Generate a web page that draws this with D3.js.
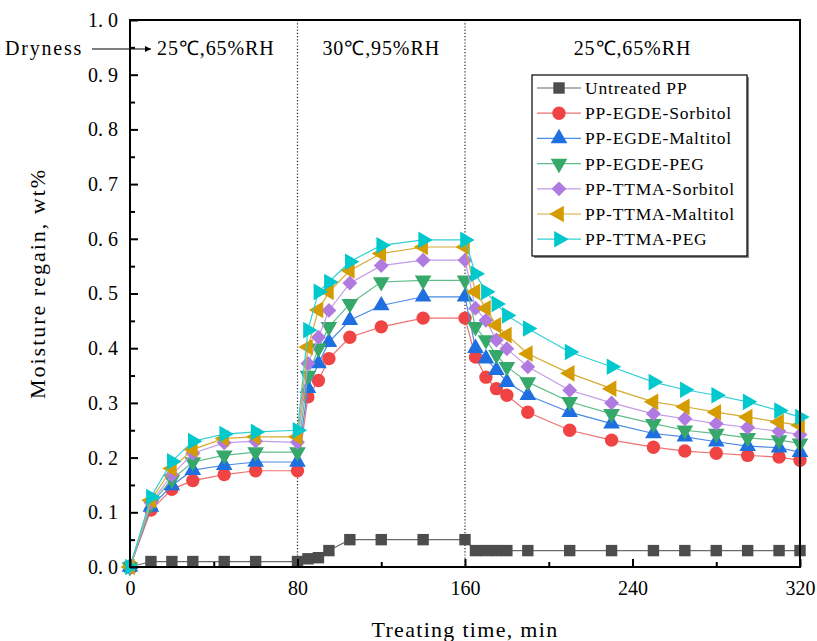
<!DOCTYPE html>
<html>
<head>
<meta charset="utf-8">
<script src="https://cdn.jsdelivr.net/npm/d3@7"></script>
<style>
  body { margin: 0; background: #fff; }
  svg text { font-family: "Liberation Serif", "Times New Roman", serif; fill: #000; }
</style>
</head>
<body>
<div id="chart"></div>
<script>
// sampling times (min)
var times = [0, 10, 20, 30, 45, 60, 80, 85, 90, 95, 105, 120, 140, 160,
    165, 170, 175, 180, 190, 210, 230, 250, 265, 280, 295, 310, 320];

var untreatedPP = [0, 0.01, 0.01, 0.01, 0.01, 0.01, 0.01, 0.015, 0.017, 0.03, 0.05, 0.05, 0.05, 0.05,
    0.03, 0.03, 0.03, 0.03, 0.03, 0.03, 0.03, 0.03, 0.03, 0.03, 0.03, 0.03, 0.03];
var egdeSorbitol = [0, 0.104, 0.142, 0.158, 0.169, 0.176, 0.176, 0.311, 0.341, 0.381, 0.42, 0.439, 0.455, 0.455,
    0.384, 0.347, 0.326, 0.314, 0.283, 0.25, 0.232, 0.219, 0.212, 0.208, 0.204, 0.201, 0.195];
var egdeMaltitol = [0, 0.11, 0.149, 0.177, 0.186, 0.192, 0.192, 0.327, 0.372, 0.411, 0.451, 0.478, 0.494, 0.494,
    0.40, 0.381, 0.36, 0.338, 0.314, 0.283, 0.262, 0.244, 0.238, 0.229, 0.221, 0.218, 0.21];
var egdePEG = [0, 0.115, 0.16, 0.192, 0.204, 0.21, 0.21, 0.35, 0.40, 0.439, 0.481, 0.521, 0.524, 0.524,
    0.439, 0.415, 0.388, 0.366, 0.338, 0.302, 0.28, 0.262, 0.25, 0.244, 0.236, 0.232, 0.226];
var ttmaSorbitol = [0, 0.118, 0.168, 0.208, 0.227, 0.23, 0.228, 0.372, 0.42, 0.469, 0.519, 0.551, 0.561, 0.561,
    0.473, 0.451, 0.415, 0.399, 0.366, 0.323, 0.30, 0.28, 0.271, 0.262, 0.255, 0.248, 0.242];
var ttmaMaltitol = [0, 0.122, 0.18, 0.215, 0.235, 0.238, 0.238, 0.402, 0.47, 0.503, 0.542, 0.573, 0.585, 0.585,
    0.503, 0.473, 0.442, 0.424, 0.39, 0.354, 0.326, 0.302, 0.293, 0.283, 0.274, 0.265, 0.259];
var ttmaPEG = [0, 0.128, 0.193, 0.230, 0.243, 0.247, 0.25, 0.433, 0.503, 0.521, 0.558, 0.588, 0.598, 0.598,
    0.536, 0.503, 0.481, 0.46, 0.436, 0.393, 0.366, 0.338, 0.324, 0.314, 0.302, 0.286, 0.274];

var seriesNames = ["Untreated PP", "PP-EGDE-Sorbitol", "PP-EGDE-Maltitol", "PP-EGDE-PEG",
    "PP-TTMA-Sorbitol", "PP-TTMA-Maltitol", "PP-TTMA-PEG"];
var seriesValues = [untreatedPP, egdeSorbitol, egdeMaltitol, egdePEG, ttmaSorbitol, ttmaMaltitol, ttmaPEG];

var xTicks = [0, 80, 160, 240, 320];
var yTicks = [0, 0.1, 0.2, 0.3, 0.4, 0.5, 0.6, 0.7, 0.8, 0.9, 1.0];
var phaseBreaks = [80, 160];
var phaseLabels = [
    { t: 41, text: "25\u2103,65%RH" },
    { t: 120, text: "30\u2103,95%RH" },
    { t: 240, text: "25\u2103,65%RH" }
];

// marker look for each series
var styles = [
    { color: "#4d4d4d", line: "#6a6a6a", shape: d3.symbolSquare, rot: 0, size: 130 },
    { color: "#f04444", line: "#f07070", shape: d3.symbolCircle, rot: 0, size: 140 },
    { color: "#1f6fe0", line: "#4a8ae6", shape: d3.symbolTriangle, rot: 0, size: 120 },
    { color: "#35a86a", line: "#5fbd8a", shape: d3.symbolTriangle, rot: 180, size: 120 },
    { color: "#b07ae0", line: "#c49ae8", shape: d3.symbolSquare, rot: 45, size: 110 },
    { color: "#d49c00", line: "#d8aa30", shape: d3.symbolTriangle, rot: -90, size: 120 },
    { color: "#00c8cc", line: "#30d0d4", shape: d3.symbolTriangle, rot: 90, size: 120 }
];

var width = 817, height = 641;
var margin = { top: 20, right: 17, bottom: 74, left: 130 };
var w = width - margin.left - margin.right;
var h = height - margin.top - margin.bottom;

var svg = d3.select("#chart").append("svg")
    .attr("width", width)
    .attr("height", height);

var g = svg.append("g")
    .attr("transform", "translate(" + margin.left + "," + margin.top + ")");

var x = d3.scaleLinear().domain([0, 320]).range([0, w]);
var y = d3.scaleLinear().domain([0, 1.0]).range([h, 0]);

// phase separators
g.selectAll(".sep")
    .data(phaseBreaks).enter().append("line")
    .attr("x1", function(d) { return x(d); })
    .attr("x2", function(d) { return x(d); })
    .attr("y1", 0)
    .attr("y2", h)
    .attr("stroke", "#222")
    .attr("stroke-width", 1.2)
    .attr("stroke-dasharray", "1.2,2");

// series
seriesValues.forEach(function(vals, si) {
    var st = styles[si];
    var pts = vals.map(function(v, i) { return [times[i], v]; });
    var line = d3.line()
        .x(function(d) { return x(d[0]); })
        .y(function(d) { return y(d[1]); });
    g.append("path")
        .datum(pts)
        .attr("fill", "none")
        .attr("stroke", st.line)
        .attr("stroke-width", 1.2)
        .attr("d", line);
    var sym = d3.symbol().type(st.shape).size(st.size);
    g.selectAll(".m" + si)
        .data(pts).enter().append("path")
        .attr("d", sym)
        .attr("fill", st.color)
        .attr("transform", function(d) {
            return "translate(" + x(d[0]) + "," + y(d[1]) + ") rotate(" + st.rot + ")";
        });
});

// axes, ticks drawn on the inside
var xAxis = d3.axisBottom(x).tickValues(xTicks).tickSize(-8).tickPadding(14)
    .tickFormat(d3.format("d"));
var xMinor = d3.axisBottom(x).tickValues([40, 120, 200, 280]).tickSize(-5).tickFormat("");
var yAxis = d3.axisLeft(y).tickValues(yTicks).tickSize(-8).tickPadding(12)
    .tickFormat(function(d) { return d3.format(".1f")(d).replace(".", ". "); });
var yMinor = d3.axisLeft(y).tickValues(d3.range(0.05, 1, 0.1)).tickSize(-5).tickFormat("");

function styleAxis(sel) {
    sel.select(".domain").remove();
    sel.selectAll(".tick line").attr("stroke", "#000").attr("stroke-width", 2);
    sel.selectAll(".tick text").style("font-size", "20px").attr("fill", "#111");
}

g.append("g").attr("transform", "translate(0," + h + ")").call(xAxis).call(styleAxis);
g.append("g").attr("transform", "translate(0," + h + ")").call(xMinor).call(styleAxis);
g.append("g").call(yAxis).call(styleAxis);
g.append("g").call(yMinor).call(styleAxis);

// frame
g.append("rect")
    .attr("x", 0).attr("y", 0)
    .attr("width", w).attr("height", h)
    .attr("fill", "none")
    .attr("stroke", "#000")
    .attr("stroke-width", 2);

// phase labels
g.selectAll(".phase")
    .data(phaseLabels).enter().append("text")
    .attr("x", function(d) { return x(d.t); })
    .attr("y", 35)
    .attr("text-anchor", "middle")
    .style("font-size", "20px")
    .style("letter-spacing", "0.9px")
    .text(function(d) { return d.text; });

// dryness arrow
svg.append("defs").append("marker")
    .attr("id", "arrow")
    .attr("viewBox", "0 0 10 10")
    .attr("refX", 10).attr("refY", 5)
    .attr("markerWidth", 8).attr("markerHeight", 6)
    .attr("markerUnits", "userSpaceOnUse")
    .attr("orient", "auto")
    .append("path")
    .attr("d", "M0,0L10,5L0,10z")
    .attr("fill", "#000");

svg.append("text")
    .attr("x", 5).attr("y", 55)
    .style("font-size", "20px")
    .style("letter-spacing", "1.8px")
    .text("Dryness");
svg.append("line")
    .attr("x1", 92).attr("x2", 151)
    .attr("y1", 49).attr("y2", 49)
    .attr("stroke", "#000")
    .attr("stroke-width", 1.2)
    .attr("marker-end", "url(#arrow)");

// legend
var lgX = 532, lgY = 75, lgW = 215, lgH = 181;
svg.append("rect")
    .attr("x", lgX + 2).attr("y", lgY + 2)
    .attr("width", lgW).attr("height", lgH)
    .attr("fill", "#888");
svg.append("rect")
    .attr("x", lgX).attr("y", lgY)
    .attr("width", lgW).attr("height", lgH)
    .attr("fill", "#fff")
    .attr("stroke", "#000")
    .attr("stroke-width", 1.2);

var item = svg.selectAll(".lg")
    .data(seriesNames).enter().append("g")
    .attr("transform", function(d, i) {
        return "translate(" + lgX + "," + (lgY + 13 + i * 25.2) + ")";
    });
item.append("line")
    .attr("x1", 5).attr("x2", 49)
    .attr("y1", 0).attr("y2", 0)
    .attr("stroke", function(d, i) { return styles[i].line; })
    .attr("stroke-width", 1.2);
item.append("path")
    .attr("d", function(d, i) { return d3.symbol().type(styles[i].shape).size(styles[i].size)(); })
    .attr("fill", function(d, i) { return styles[i].color; })
    .attr("transform", function(d, i) { return "translate(27,0) rotate(" + styles[i].rot + ")"; });
item.append("text")
    .attr("x", 53).attr("y", 6)
    .style("font-size", "17.5px")
    .style("letter-spacing", "0.8px")
    .text(function(d) { return d; });

// axis titles
svg.append("text")
    .attr("x", margin.left + w / 2)
    .attr("y", 637)
    .attr("text-anchor", "middle")
    .style("font-size", "22px")
    .style("letter-spacing", "1.3px")
    .text("Treating time, min");
svg.append("text")
    .attr("transform", "translate(45," + (margin.top + h / 2 - 10) + ") rotate(-90)")
    .attr("text-anchor", "middle")
    .style("font-size", "22px")
    .style("letter-spacing", "2px")
    .text("Moisture regain, wt%");
</script>
</body>
</html>
